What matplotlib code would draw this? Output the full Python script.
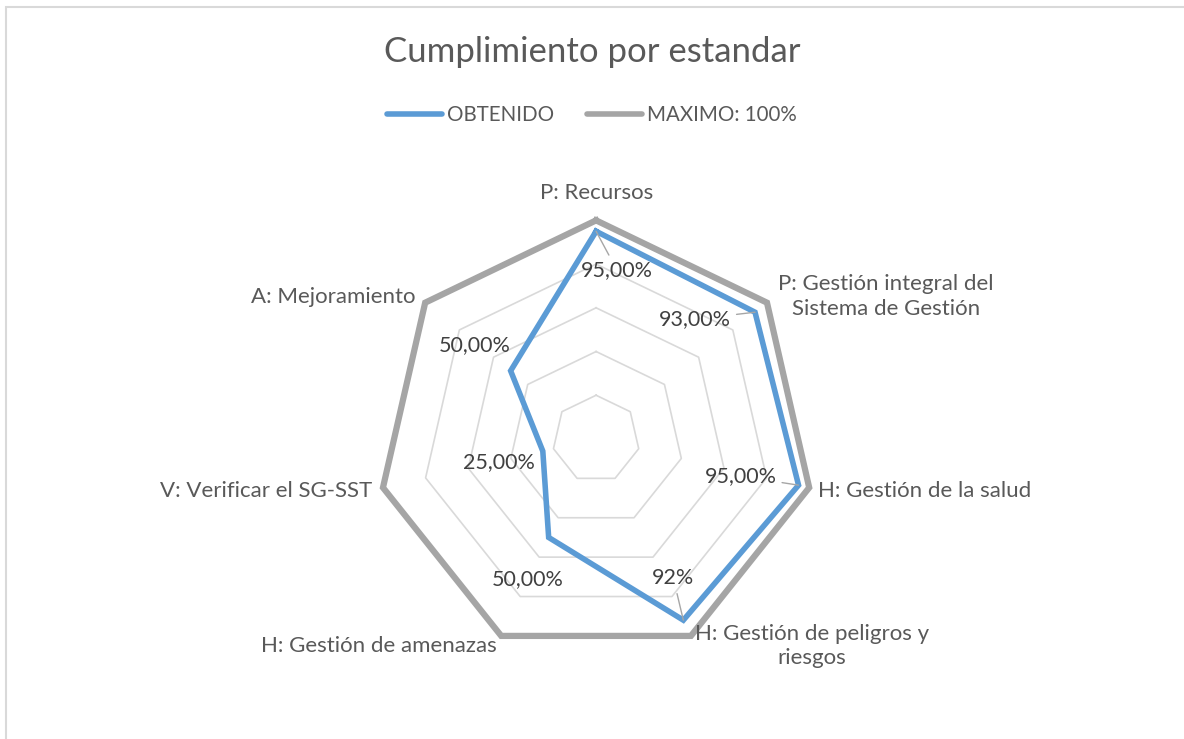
import numpy as np
import matplotlib.pyplot as plt
from matplotlib.lines import Line2D
from matplotlib.patches import Rectangle

plt.rcParams['font.family'] = ['Lato', 'DejaVu Sans']

categorias = ['P: Recursos', 'P: Gestión integral del\nSistema de Gestión',
              'H: Gestión de la salud', 'H: Gestión de peligros y\nriesgos',
              'H: Gestión de amenazas', 'V: Verificar el SG-SST', 'A: Mejoramiento']
obtenido = [95, 93, 95, 92, 50, 25, 50]
maximo = [100, 100, 100, 100, 100, 100, 100]
etiquetas = ['95,00%', '93,00%', '95,00%', '92%', '50,00%', '25,00%', '50,00%']
niveles = [20, 40, 60, 80]

txt = '#595959'
azul = '#5b9bd5'
gris = '#a5a5a5'

fig = plt.figure(figsize=(11.84, 7.39), dpi=100)
fig.patches.append(Rectangle((0.005, -0.01), 1.2, 1.0, transform=fig.transFigure,
                             fill=False, edgecolor='#d9d9d9', lw=1.5))

ax = fig.add_axes([0.3188, 0.1102, 0.3693, 0.5916], projection='polar')
ax.set_theta_offset(np.pi / 2)
ax.set_theta_direction(-1)
ax.set_ylim(0, 100)
ax.grid(False)
ax.spines['polar'].set_visible(False)
ax.set_xticks([])
ax.set_yticks([])
ax.patch.set_alpha(0)

n = len(categorias)
ang = np.arange(n) * 2 * np.pi / n
ang_c = np.append(ang, ang[0])

for lv in niveles:
    ax.plot(ang_c, [lv] * (n + 1), color='#d9d9d9', lw=1.2, zorder=1)

ax.plot(ang_c, maximo + maximo[:1], color=gris, lw=4.5, zorder=2, clip_on=False,
        solid_joinstyle='miter')
ax.plot(ang_c, obtenido + obtenido[:1], color=azul, lw=4, zorder=3, clip_on=False,
        solid_joinstyle='miter')

# category labels
cat_off = [(1, 27, 'center'), (119, 6, 'center'), (9, -3, 'left'), (4, -10, 'left'),
           (-4, -10, 'right'), (-11, -3, 'right'), (-10, 6, 'right')]
for a, lab, (dx, dy, ha) in zip(ang, categorias, cat_off):
    ax.annotate(lab, xy=(a, 100), xytext=(dx, dy), textcoords='offset pixels',
                ha=ha, va='center', ma='center', fontsize=16, color=txt,
                annotation_clip=False, linespacing=1.3)

# data labels
lab_off = [(21, -39), (-60, -7), (-58, 9), (-10, 42), (-21, -42), (-44, -11), (-36, 26)]
leader = [True, True, True, True, False, False, False]
for a, v, lab, (dx, dy), ld in zip(ang, obtenido, etiquetas, lab_off, leader):
    props = dict(arrowstyle='-', color='#a6a6a6', lw=1, shrinkA=2, shrinkB=0) if ld else None
    ax.annotate(lab, xy=(a, v), xytext=(dx, dy), textcoords='offset pixels',
                ha='center', va='center', fontsize=15.5, color='#404040',
                arrowprops=props, zorder=5)

fig.text(0.5, 1 - 52 / 739, 'Cumplimiento por estandar', ha='center', va='center',
         fontsize=25, color=txt, fontweight='normal')

handles = [Line2D([], [], color=azul, lw=4, solid_capstyle='round'),
           Line2D([], [], color=gris, lw=4, solid_capstyle='round')]
fig.legend(handles, ['OBTENIDO', 'MAXIMO: 100%'], loc='center',
           bbox_to_anchor=(0.5, 1 - 115 / 739), ncol=2, frameon=False,
           fontsize=14.8, labelcolor=txt, handlelength=2.65, handletextpad=0.26,
           columnspacing=1.6)

fig.savefig('out.png', dpi=100)
